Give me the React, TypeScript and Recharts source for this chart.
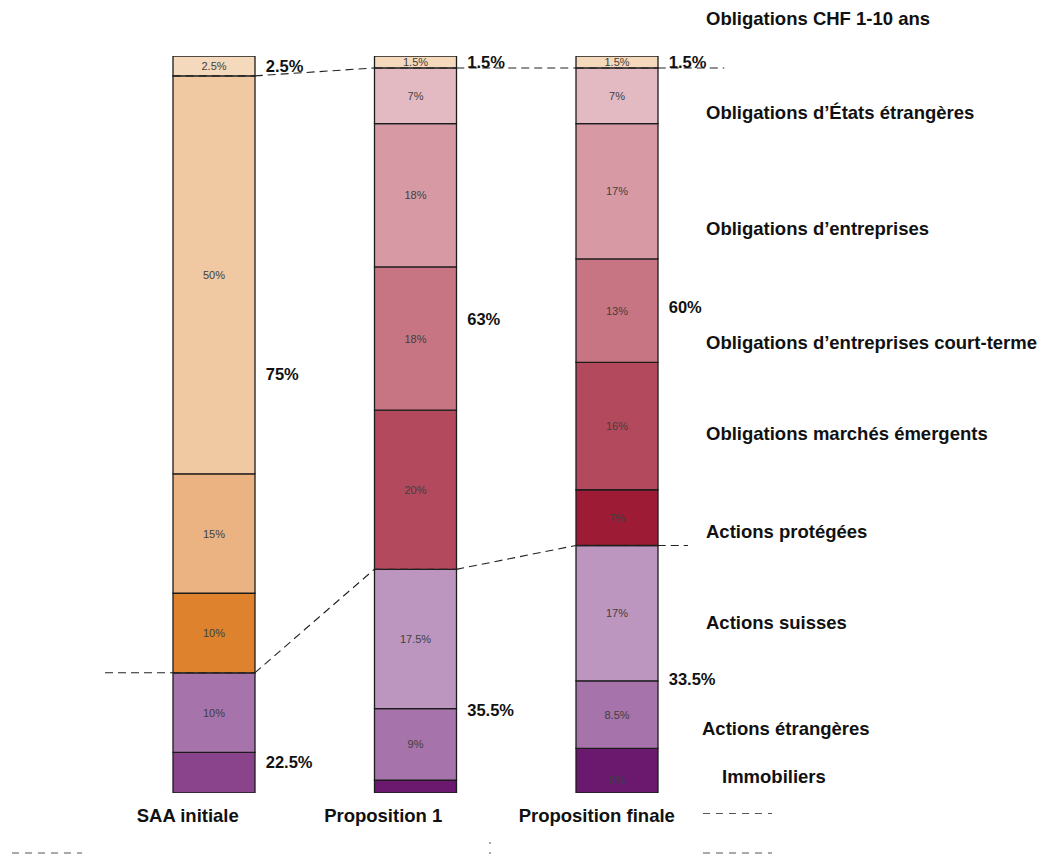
import {
  Bar,
  BarChart,
  Cell,
  LabelList,
  ReferenceDot,
  ReferenceLine,
  XAxis,
  YAxis,
} from 'recharts'

const columns = ['SAA initiale', 'Proposition 1', 'Proposition finale']

// parts of each column, listed from the top of the stack down
const saaInitiale = [2.5, 50, 15, 10, 10, 12.5]
const proposition1 = [1.5, 7, 18, 18, 20, 17.5, 9, 9]
const propositionFinale = [1.5, 7, 17, 13, 16, 7, 17, 8.5, 8]

// subtotals printed to the right of each column
const topShare = [2.5, 1.5, 1.5]
const bondShare = [75, 63, 60]
const equityShare = [22.5, 35.5, 33.5]

const assetClasses = [
  'Obligations CHF 1-10 ans',
  'Obligations d’États étrangères',
  'Obligations d’entreprises',
  'Obligations d’entreprises court-terme',
  'Obligations marchés émergents',
  'Actions protégées',
  'Actions suisses',
  'Actions étrangères',
  'Immobiliers',
]

const saaColors = ['#F5D9BC', '#F0C8A1', '#ECB382', '#DF822E', '#A673AA', '#89448C']
const prop1Colors = ['#F5D9BC', '#E4BAC2', '#D79AA5', '#C87583', '#B3495D', '#BD96C0', '#A673AA', '#6B186F']
const finalColors = ['#F5D9BC', '#E4BAC2', '#D79AA5', '#C87583', '#B3495D', '#9E1B36', '#BD96C0', '#A673AA', '#6B186F']

// ---- layout ----
const W = 1042
const H = 854
const PLOT_TOP = 56
const PLOT_BOTTOM = 793
const PLOT_LEFT = 100
const PLOT_RIGHT = 730
const AXIS_H = 30
const PAD_L = 13
const PAD_R = 12.5
const BAR = 82
const Y_MIN = 7.4
const FONT = "'Liberation Sans', Arial, sans-serif"

const BAND = (PLOT_RIGHT - PLOT_LEFT - PAD_L - PAD_R) / columns.length
const HALF = BAR / 2 / BAND
const PX_PER_PCT = (PLOT_BOTTOM - PLOT_TOP) / (100 - Y_MIN)

const tickNudge: Record<string, number> = {
  'SAA initiale': -26,
  'Proposition 1': -32,
  'Proposition finale': -20,
}

// legend text baselines, right-hand column
const legendBaseline = [25, 119, 235, 349, 440, 538, 629, 735, 783]
const legendLeft = [706, 706, 706, 706, 706, 706, 706, 702, 722]

const sum = (a: number[]) => a.reduce((s, v) => s + v, 0)

const columnSegments = [saaInitiale, proposition1, propositionFinale]
const columnColors = [saaColors, prop1Colors, finalColors]
const layerCount = Math.max(...columnSegments.map((s) => s.length))
const layerKeys = Array.from({ length: layerCount }, (_, i) => `s${i}`)

// every column is topped at 100 %, anything unallocated sits at the base
const bases = columnSegments.map((s) => 100 - sum(s))

const data = columns.map((name, c) => {
  const row: Record<string, number | string> = { name, pos: c, gap: bases[c] }
  const bottomUp = [...columnSegments[c]].reverse()
  bottomUp.forEach((v, i) => {
    row[`s${i}`] = v
  })
  return row
})

const layerColor = (c: number, layer: number) => {
  const cols = columnColors[c]
  return cols[cols.length - 1 - layer] ?? 'none'
}

const equityTop = columns.map((_, c) => bases[c] + equityShare[c])
const bondTop = columns.map((_, c) => equityTop[c] + bondShare[c])

type Pt = { x: number; y: number }
const connector = (levels: number[], lead: number, tail: number) => {
  const pts: Pt[] = []
  if (lead > 0) pts.push({ x: -HALF - lead, y: levels[0] })
  levels.forEach((lv, c) => {
    pts.push({ x: c - HALF, y: lv })
    pts.push({ x: c + HALF, y: lv })
  })
  const last = levels.length - 1
  pts.push({ x: last + HALF + tail, y: levels[last] })
  return pts
}

const upperLine = connector(bondTop, 0, 0.33)
const lowerLine = connector(equityTop, 0.336, 0.15)

const subtotalDots = columns.flatMap((_, c) => [
  { c, y: bases[c] + equityShare[c] / 2, text: `${equityShare[c]}%` },
  { c, y: equityTop[c] + bondShare[c] / 2, text: `${bondShare[c]}%` },
  { c, y: bondTop[c] + topShare[c] / 2, text: `${topShare[c]}%` },
])

const SegmentLabel = (props: any) => {
  const { value } = props
  const vb = props.viewBox ?? props
  if (value == null || value === 0 || vb == null) return null
  const top = Math.min(vb.y, vb.y + vb.height)
  const cy = top + (Number(value) * PX_PER_PCT) / 2
  if (cy > PLOT_BOTTOM - 6) return null
  return (
    <text
      x={vb.x + vb.width / 2}
      y={cy}
      textAnchor="middle"
      dominantBaseline="central"
      fontSize={11}
      fill="#404040"
      fontFamily={FONT}
    >
      {value}%
    </text>
  )
}

const ColumnTick = ({ x, y, payload }: any) => (
  <text
    x={x + (tickNudge[payload.value] ?? 0)}
    y={y + 29}
    textAnchor="middle"
    fontSize={18.5}
    fontWeight={700}
    fill="#111"
    fontFamily={FONT}
  >
    {payload.value}
  </text>
)

export default function App() {
  return (
    <div
      style={{
        position: 'absolute',
        left: 0,
        top: 0,
        width: W,
        height: H,
        background: '#fff',
        fontFamily: FONT,
      }}
    >
      <BarChart
        width={W}
        height={H}
        data={data}
        margin={{
          top: PLOT_TOP,
          right: W - PLOT_RIGHT,
          bottom: H - PLOT_BOTTOM - AXIS_H,
          left: PLOT_LEFT,
        }}
      >
        <XAxis
          xAxisId="cat"
          dataKey="name"
          type="category"
          height={AXIS_H}
          padding={{ left: PAD_L, right: PAD_R }}
          axisLine={false}
          tickLine={false}
          tickSize={0}
          tickMargin={0}
          tick={<ColumnTick />}
          interval={0}
        />
        {/* column index axis: 0..n-1 sit on the band centres */}
        <XAxis
          xAxisId="pos"
          dataKey="pos"
          type="number"
          domain={['dataMin', 'dataMax']}
          padding={{ left: PAD_L + BAND / 2, right: PAD_R + BAND / 2 }}
          hide
        />
        <YAxis type="number" domain={[Y_MIN, 100]} allowDataOverflow hide />
        <Bar
          xAxisId="cat"
          dataKey="gap"
          stackId="a"
          barSize={BAR}
          fill="none"
          stroke="none"
          isAnimationActive={false}
        />
        {layerKeys.map((key, layer) => (
          <Bar
            key={key}
            xAxisId="cat"
            dataKey={key}
            stackId="a"
            barSize={BAR}
            stroke="#1c1c1c"
            strokeWidth={1.3}
            isAnimationActive={false}
          >
            {data.map((_, c) => (
              <Cell key={c} fill={layerColor(c, layer)} />
            ))}
            <LabelList dataKey={key} content={<SegmentLabel />} />
          </Bar>
        ))}
        {[upperLine, lowerLine].flatMap((line, li) =>
          line.slice(1).map((p, i) => (
            <ReferenceLine
              key={`l${li}-${i}`}
              xAxisId="pos"
              ifOverflow="visible"
              segment={[line[i], p]}
              stroke="#222"
              strokeWidth={1.1}
              strokeDasharray="8 5"
            />
          )),
        )}
        {subtotalDots.map((d, i) => (
          <ReferenceDot
            key={`t${i}`}
            xAxisId="pos"
            x={d.c + HALF}
            y={d.y}
            r={0}
            fill="none"
            stroke="none"
            ifOverflow="visible"
            label={{
              value: d.text,
              position: 'right',
              offset: 11,
              fill: '#111',
              fontSize: 16.5,
              fontWeight: 700,
              fontFamily: FONT,
            }}
          />
        ))}
      </BarChart>
      <svg
        width={W}
        height={H}
        style={{ position: 'absolute', left: 0, top: 0, pointerEvents: 'none' }}
      >
        {assetClasses.map((name, i) => (
          <text
            key={name}
            x={legendLeft[i]}
            y={legendBaseline[i]}
            fontSize={18.5}
            fontWeight={700}
            fill="#111"
            fontFamily={FONT}
          >
            {name}
          </text>
        ))}
        <g stroke="#555" strokeWidth={1} strokeDasharray="7 6">
          <line x1={703} y1={813.5} x2={772} y2={813.5} />
          <line x1={12} y1={853} x2={82} y2={853} />
          <line x1={703} y1={853} x2={772} y2={853} />
          <line x1={490} y1={842} x2={490} y2={854} strokeDasharray="2 8" />
        </g>
      </svg>
    </div>
  )
}
